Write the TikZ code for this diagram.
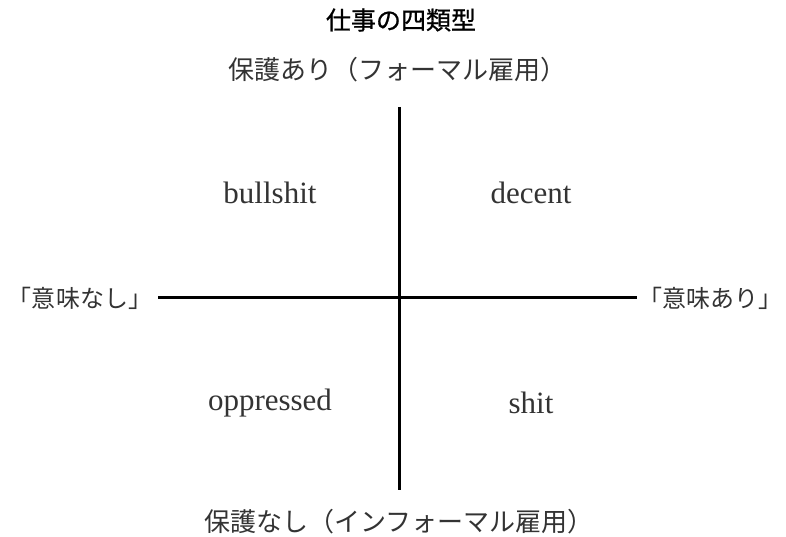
\documentclass[tikz,border=0pt]{standalone}
\usepackage{fontspec}
\setmainfont{Liberation Serif}
\newfontfamily\jp{Noto Sans CJK JP}
\newfontfamily\jpt[FakeBold=0.8]{Noto Sans CJK JP}
\definecolor{txt}{HTML}{333333}
\begin{document}
\begin{tikzpicture}[x=1pt,y=-1pt,
  title/.style={font=\jpt\fontsize{25}{28}\selectfont, text=black},
  jlab/.style={font=\jp\fontsize{26}{30}\selectfont, text=txt, inner sep=0pt},
  slab/.style={font=\jp\fontsize{24}{28}\selectfont, text=txt, inner sep=0pt},
  quad/.style={font=\fontsize{31}{34}\selectfont, text=txt},
  axis/.style={line width=3pt, black}]
\useasboundingbox (0,0) rectangle (786,537);
\node[title] (t) at (401,20) {仕事の四類型};
\node[jlab] (top) at (397,70) {保護あり（フォーマル雇用）};
\node[jlab] (bot) at (399,522) {保護なし（インフォーマル雇用）};
\node[slab] (left) at (80,298) {「意味なし」};
\node[slab] (right) at (710,298) {「意味あり」};
\node[quad] (bs) at (270,193) {bullshit};
\node[quad] (dc) at (531,193) {decent};
\node[quad] (op) at (270,403) {oppressed};
\node[quad] (sh) at (531,403) {shit};
\coordinate (vt) at (399,107);
\coordinate (vb) at (399,490);
\coordinate (hl) at (158,297);
\coordinate (hr) at (637,297);
\draw[axis] (vt) -- (vb);
\draw[axis] (hl) -- (hr);
\end{tikzpicture}
\end{document}
